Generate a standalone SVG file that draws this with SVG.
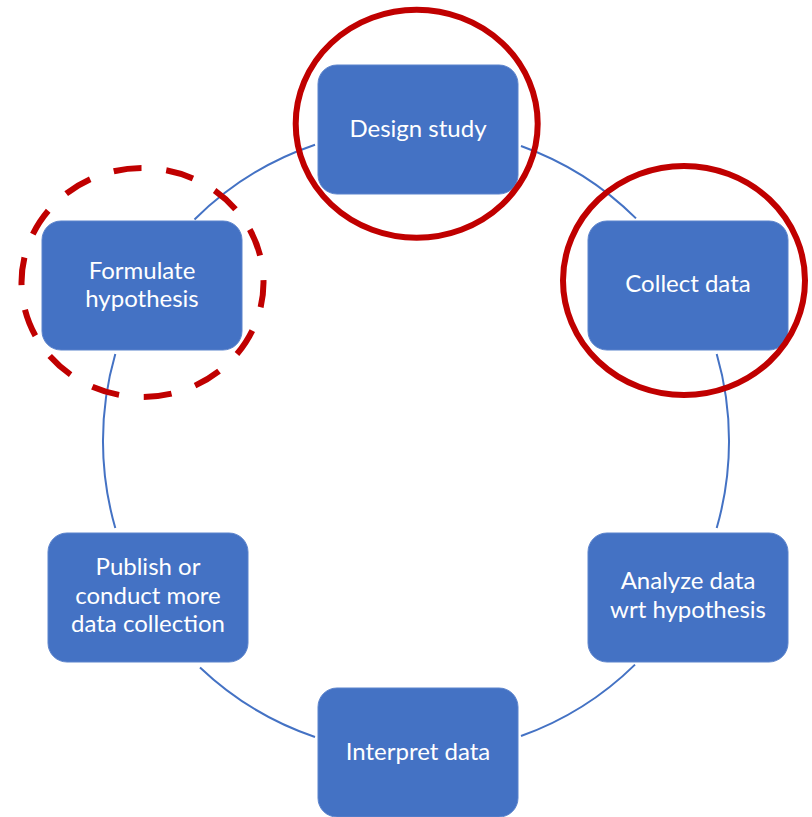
<svg xmlns="http://www.w3.org/2000/svg" width="812" height="817" viewBox="0 0 812 817">
  <style>
    .box { fill: #4472C4; stroke: #5B83CC; stroke-width: 1; }
    .lbl { font-family: Lato, "Liberation Sans", sans-serif; font-size: 24px; fill: #FFFFFF; text-anchor: middle; }
    .arc { fill: none; stroke: #4472C4; stroke-width: 2; }
    .ring { fill: none; stroke: #C00000; stroke-width: 6; }
    .ring.dashed { stroke-dasharray: 28 24.86; stroke-dashoffset: 3; }
  </style>

  <!-- cycle connectors: arcs of one circle, centre (416,441), r 313 -->
  <g id="connectors">
    <path class="arc" d="M521,146 A313,313 0 0 1 636,218.4"/>
    <path class="arc" d="M716.7,354 A313,313 0 0 1 716.7,528"/>
    <path class="arc" d="M635,664.6 A313,313 0 0 1 521,736"/>
    <path class="arc" d="M315,737 A313,313 0 0 1 200,667.5"/>
    <path class="arc" d="M115.3,528 A313,313 0 0 1 115.3,354"/>
    <path class="arc" d="M194.5,219.5 A313,313 0 0 1 315,144.7"/>
  </g>

  <g id="design-study">
    <rect class="box" x="318" y="65" width="200" height="129" rx="19"/>
    <text class="lbl" x="418" y="137">Design study</text>
  </g>

  <g id="collect-data">
    <rect class="box" x="588" y="221" width="200" height="129" rx="19"/>
    <text class="lbl" x="688" y="292">Collect data</text>
  </g>

  <g id="analyze-data">
    <rect class="box" x="588" y="533" width="200" height="129" rx="19"/>
    <text class="lbl" x="688" y="589">Analyze data</text>
    <text class="lbl" x="688" y="618">wrt hypothesis</text>
  </g>

  <g id="interpret-data">
    <rect class="box" x="318" y="688" width="200" height="129" rx="19"/>
    <text class="lbl" x="418" y="760">Interpret data</text>
  </g>

  <g id="publish">
    <rect class="box" x="48" y="533" width="200" height="129" rx="19"/>
    <text class="lbl" x="148" y="575">Publish or</text>
    <text class="lbl" x="148" y="603.5">conduct more</text>
    <text class="lbl" x="148" y="632">data collection</text>
  </g>

  <g id="formulate-hypothesis">
    <rect class="box" x="42" y="221" width="200" height="129" rx="19"/>
    <text class="lbl" x="142" y="278.5">Formulate</text>
    <text class="lbl" x="142" y="307">hypothesis</text>
  </g>

  <!-- highlight rings -->
  <g id="highlights">
    <ellipse class="ring" cx="416.7" cy="123.7" rx="121" ry="114"/>
    <ellipse class="ring" cx="684" cy="280.5" rx="121" ry="114.5"/>
    <ellipse class="ring dashed" cx="142.5" cy="282.5" rx="121" ry="114.5"/>
  </g>
</svg>
